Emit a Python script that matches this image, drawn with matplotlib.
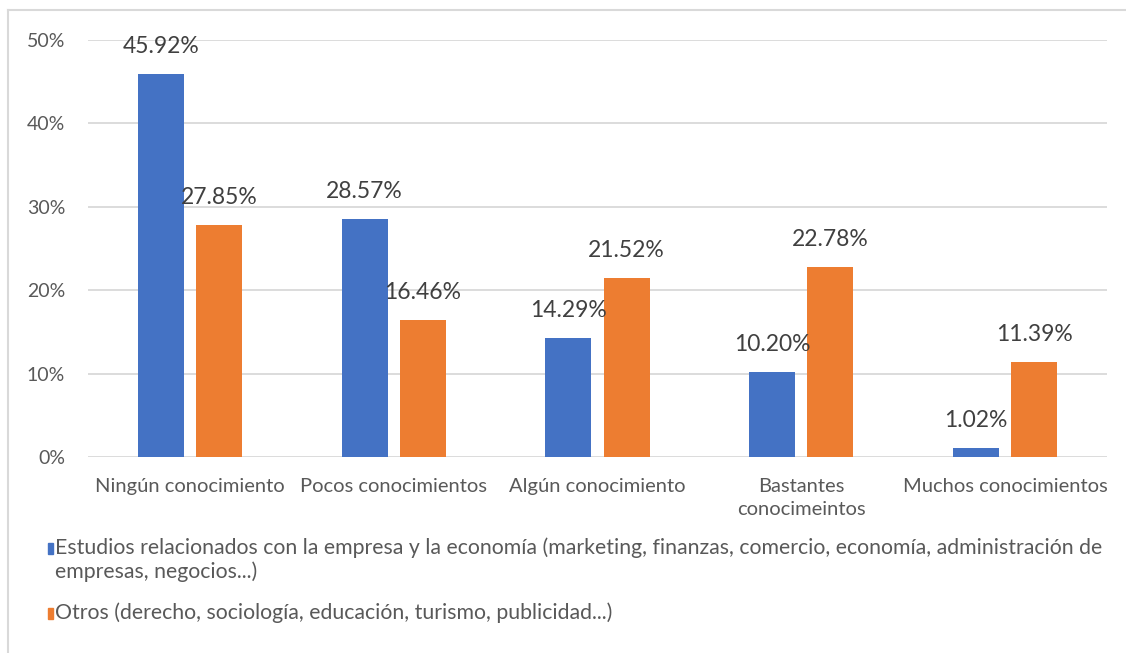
import numpy as np
import matplotlib.pyplot as plt
from matplotlib.patches import Rectangle
from matplotlib.lines import Line2D

categories = ["Ningún conocimiento", "Pocos conocimientos", "Algún conocimiento",
              "Bastantes\nconocimeintos", "Muchos conocimientos"]
empresa = [45.92, 28.57, 14.29, 10.20, 1.02]
otros = [27.85, 16.46, 21.52, 22.78, 11.39]
legend_lines = [
    ["Estudios relacionados con la empresa y la economía (marketing, finanzas, comercio, economía, administración de",
     "empresas, negocios...)"],
    ["Otros (derecho, sociología, educación, turismo, publicidad...)"],
]
yticks = [0, 10, 20, 30, 40, 50]

blue = "#4472c4"
orange = "#ed7d31"
plt.rcParams['font.family'] = ['Lato', 'DejaVu Sans']

W, H = 1126, 653
fig = plt.figure(figsize=(W / 100, H / 100), dpi=100)
ax = fig.add_axes([88 / W, 1 - 457 / H, 1019 / W, 417 / H])

x = np.arange(len(categories))
w = 0.226
off = 0.143
b1 = ax.bar(x - off, empresa, w, color=blue, zorder=3)
b2 = ax.bar(x + off, otros, w, color=orange, zorder=3)

for bars, vals in [(b1, empresa), (b2, otros)]:
    for bar, v in zip(bars, vals):
        ax.text(bar.get_x() + bar.get_width() / 2, v + 3.3, f"{v:.2f}%",
                ha="center", va="center", fontsize=16.5, color="#404040", zorder=4)

ax.set_xlim(-0.5, 4.5)
ax.set_ylim(0, 50)
ax.set_yticks(yticks)
ax.set_yticklabels([f"{t}%" for t in yticks])
ax.set_xticks(x)
ax.set_xticklabels(categories, linespacing=1.45)
ax.tick_params(axis="both", length=0, labelsize=14.5, labelcolor="#595959")
ax.tick_params(axis="y", pad=16.5, labelsize=14)
ax.tick_params(axis="x", pad=15)
ax.yaxis.grid(True, color="#d9d9d9", linewidth=1.3, zorder=0)
for s in ax.spines.values():
    s.set_visible(False)

# chart frame (top and left edges visible)
fig.add_artist(Line2D([8 / W, 1.0], [1 - 10 / H] * 2, color="#d9d9d9", lw=1.5))
fig.add_artist(Line2D([8 / W] * 2, [0, 1 - 10 / H], color="#d9d9d9", lw=1.5))

# legend
leg_y = [548, 613]
for color, lines, ly in zip([blue, orange], legend_lines, leg_y):
    fig.add_artist(Rectangle((48 / W, 1 - (ly + 6) / H), 5 / W, 11 / H,
                             color=color, transform=fig.transFigure))
    for i, line in enumerate(lines):
        fig.text(55 / W, 1 - (ly + 24 * i) / H, line, fontsize=15.3, color="#595959",
                 va="center", ha="left")

fig.savefig("out.png", dpi=100)
